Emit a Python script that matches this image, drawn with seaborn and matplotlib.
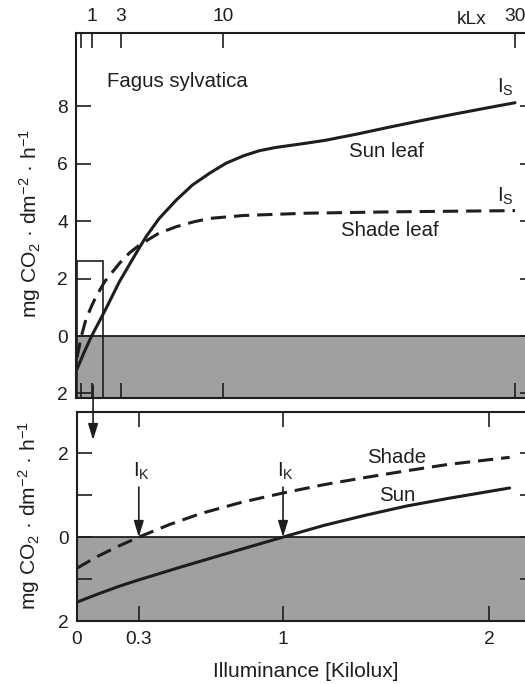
import matplotlib
matplotlib.use("Agg")
import matplotlib.pyplot as plt
import matplotlib.transforms as mtransforms
from matplotlib.patches import Rectangle
import pandas as pd
import seaborn as sns

# ---------------- data ----------------
# Upper panel: whole range, kilolux
top_sun_x = [0, 0.5, 1, 1.9, 2.9, 3.9, 4.7, 5.6, 6.8, 7.9, 9.1, 10.2, 11.4, 12.5, 13.6,
             15.7, 17, 19.2, 21.4, 23.7, 26, 28.3, 30]
top_sun_y = [-1.15, -0.55, 0.0, 0.87, 1.89, 2.76, 3.44, 4.08, 4.74, 5.26, 5.68, 6.02, 6.28,
             6.46, 6.57, 6.72, 6.82, 7.04, 7.28, 7.52, 7.75, 7.97, 8.13]
top_shade_x = [0, 0.3, 0.6, 1.0, 1.3, 1.9, 2.9, 3.6, 4.3, 5.6, 6.8, 8, 9.1, 11.4, 15.7, 22, 30]
top_shade_y = [-0.75, 0.0, 0.56, 1.05, 1.37, 1.9, 2.53, 2.9, 3.18, 3.58, 3.81, 3.98, 4.1,
               4.2, 4.28, 4.33, 4.37]

# Lower panel: low-light detail, kilolux
low_sun_x = [0, 0.1, 0.2, 0.3, 0.5, 0.7, 1.0, 1.2, 1.4, 1.6, 1.8, 2.1]
low_sun_y = [-1.55, -1.36, -1.18, -1.02, -0.72, -0.43, 0.0, 0.28, 0.52, 0.74, 0.92, 1.17]
low_shade_x = [0, 0.1, 0.2, 0.3, 0.45, 0.6, 0.8, 1.0, 1.2, 1.4, 1.6, 1.8, 2.1]
low_shade_y = [-0.74, -0.46, -0.22, 0.0, 0.3, 0.56, 0.83, 1.05, 1.25, 1.42, 1.58, 1.73, 1.9]

top_xticks = [0.3, 1, 3, 10, 30]
top_xticklabels = ["", "1", "3", "10", "30"]
top_yticks = [-2, 0, 2, 4, 6, 8]
top_yticklabels = ["2", "0", "2", "4", "6", "8"]
low_xticks = [0, 0.3, 1, 2]
low_xticklabels = ["0", "0.3", "1", "2"]
low_yticks = [-2, -1, 0, 1, 2]
low_yticklabels = ["2", "", "0", "", "2"]

compensation_points = [0.3, 1.0]   # I_K for shade and sun leaf
zoom_box_x = 1.8                   # kLx extent of the enlarged region
zoom_box_y = 2.6

top_sun = pd.DataFrame({"x": top_sun_x, "y": top_sun_y})
top_shade = pd.DataFrame({"x": top_shade_x, "y": top_shade_y})
low_sun = pd.DataFrame({"x": low_sun_x, "y": low_sun_y})
low_shade = pd.DataFrame({"x": low_shade_x, "y": low_shade_y})

# ---------------- style ----------------
sns.set_theme(style="ticks")
plt.rcParams["font.family"] = ["Liberation Sans", "DejaVu Sans"]
plt.rcParams["mathtext.fontset"] = "custom"
plt.rcParams["mathtext.rm"] = "Liberation Sans"
plt.rcParams["mathtext.it"] = "Liberation Sans:italic"
plt.rcParams["mathtext.bf"] = "Liberation Sans:bold"

INK = "#1e1e1e"
GRAY = "#a0a0a0"
DASH = (0, (5, 2.6))
LW = 2.2
TICK_FS = 13.8
TEXT_FS = 14.7
LABEL_FS = 15.1

W, H = 525, 684
fig = plt.figure(figsize=(W / 100, H / 100), dpi=100)
fig.patch.set_facecolor("white")

ax1 = fig.add_axes([76 / W, 1 - 398 / H, (535 - 76) / W, (398 - 33) / H])
ax2 = fig.add_axes([77 / W, 1 - 621 / H, (535 - 77) / W, (621 - 412) / H])

top_ylim = (-2.16, 10.56)
ax1.set_xlim(-0.07, 31.37)
ax1.set_ylim(*top_ylim)
low_ylim = (-2.0, 2.98)
ax2.set_xlim(0, 2.223)
ax2.set_ylim(*low_ylim)

for ax, ylim in ((ax1, top_ylim), (ax2, low_ylim)):
    ax.set_facecolor("white")
    ax.axhspan(ylim[0], 0, color=GRAY, lw=0, zorder=0)
    ax.axhline(0, color=INK, lw=1.3, zorder=1)
    for s in ax.spines.values():
        s.set_color(INK)
        s.set_linewidth(1.5)
        s.set_zorder(5)

# curves
sns.lineplot(data=top_sun, x="x", y="y", ax=ax1, color=INK, lw=LW, estimator=None, zorder=3)
sns.lineplot(data=top_shade, x="x", y="y", ax=ax1, color=INK, lw=LW, linestyle=DASH,
             estimator=None, zorder=3)
sns.lineplot(data=low_sun, x="x", y="y", ax=ax2, color=INK, lw=LW, estimator=None, zorder=3)
sns.lineplot(data=low_shade, x="x", y="y", ax=ax2, color=INK, lw=LW, linestyle=DASH,
             estimator=None, zorder=3)

# zoom box in upper panel
ax1.add_patch(Rectangle((0, top_ylim[0]), zoom_box_x, zoom_box_y - top_ylim[0],
                        fill=False, ec=INK, lw=1.2, zorder=2))

# ticks
ax1.set_xticks(top_xticks)
ax1.set_xticklabels(top_xticklabels)
ax1.set_yticks(top_yticks)
ax1.set_yticklabels(top_yticklabels)
ax1.tick_params(axis="x", which="both", top=True, bottom=True, labeltop=True, labelbottom=False,
                direction="in", length=11, width=1.2, pad=6, labelsize=TICK_FS,
                color=INK, labelcolor=INK)
ax1.tick_params(axis="y", left=True, right=True, direction="in", length=11, width=1.2,
                pad=6, labelsize=TICK_FS, color=INK, labelcolor=INK)

ax2.set_xticks(low_xticks)
ax2.set_xticklabels(low_xticklabels)
ax2.set_yticks(low_yticks)
ax2.set_yticklabels(low_yticklabels)
ax2.tick_params(axis="x", top=True, bottom=True, direction="in", length=11, width=1.2,
                pad=7.5, labelsize=TICK_FS, color=INK, labelcolor=INK)
ax2.tick_params(axis="y", left=True, right=True, direction="in", length=11, width=1.2,
                pad=6, labelsize=TICK_FS, color=INK, labelcolor=INK)

ax1.grid(False)
ax2.grid(False)

# kLx unit label on top axis
blend = mtransforms.blended_transform_factory(ax1.transData, ax1.transAxes)
ax1.text(27.05, 1.038, "kLx", transform=blend, ha="center", va="center",
         fontsize=TICK_FS, color=INK)

# axis labels
ylab = r"mg CO$_2$ · dm$^{-2}$ · h$^{-1}$"
for ax in (ax1, ax2):
    ax.set_ylabel(ylab, fontsize=LABEL_FS, color=INK)
    ax.yaxis.label.set_va("center")
    ax.yaxis.label.set_ha("center")
ax1.yaxis.set_label_coords(-0.101, 0.479)
ax2.yaxis.set_label_coords(-0.104, 0.507)
ax1.set_xlabel("")
ax2.set_xlabel("Illuminance [Kilolux]", fontsize=LABEL_FS, color=INK)
ax2.xaxis.label.set_va("center")
ax2.xaxis.set_label_coords(0.499, -0.244)

# annotations upper panel
ax1.text(2.05, 8.68, "Fagus sylvatica", ha="left", va="baseline", fontsize=TEXT_FS, color=INK)
ax1.text(21.2, 6.25, "Sun leaf", ha="center", va="baseline", fontsize=TEXT_FS, color=INK)
ax1.text(21.4, 3.48, "Shade leaf", ha="center", va="baseline", fontsize=TEXT_FS, color=INK)
ax1.text(28.75, 8.47, r"I$_{\rm S}$", ha="left", va="baseline", fontsize=TEXT_FS, color=INK)
ax1.text(28.75, 4.67, r"I$_{\rm S}$", ha="left", va="baseline", fontsize=TEXT_FS, color=INK)

# annotations lower panel
ax2.text(1.553, 1.76, "Shade", ha="center", va="baseline", fontsize=TEXT_FS, color=INK)
ax2.text(1.553, 0.86, "Sun", ha="center", va="baseline", fontsize=TEXT_FS, color=INK)
arrow_style = "-|>,head_length=0.65,head_width=0.2"
for xk in compensation_points:
    ax2.text(xk - 0.028, 1.43, r"I$_{\rm K}$", ha="left", va="baseline", fontsize=TEXT_FS, color=INK)
    ax2.annotate("", xy=(xk, 0), xytext=(xk, 1.19),
                 arrowprops=dict(arrowstyle=arrow_style, color=INK, lw=1.2,
                                 mutation_scale=15, shrinkA=0, shrinkB=0), zorder=4)

# link arrow from upper zoom box to lower panel
ax2.annotate("", xy=(0.078, 2.31), xycoords="data", xytext=(1.1, -1.71),
             textcoords=ax1.transData,
             arrowprops=dict(arrowstyle=arrow_style, color=INK, lw=1.2,
                             mutation_scale=15, shrinkA=0, shrinkB=0),
             annotation_clip=False)

fig.savefig("out.png", dpi=100, facecolor="white")
